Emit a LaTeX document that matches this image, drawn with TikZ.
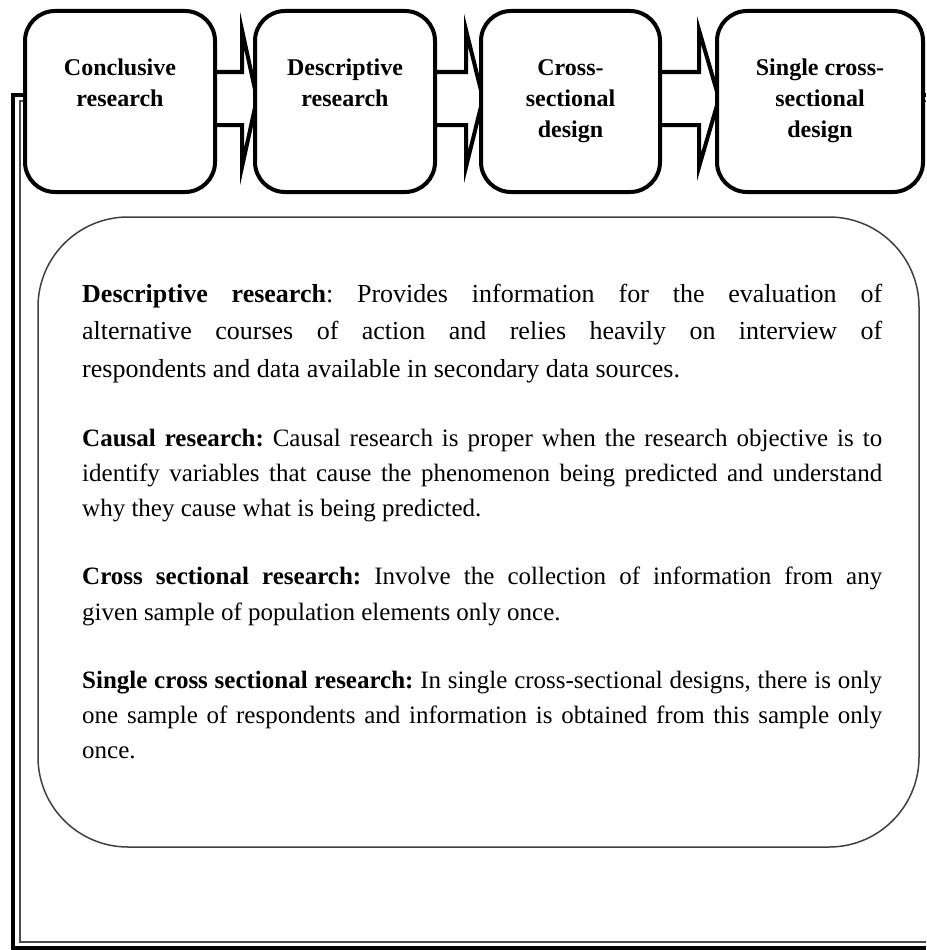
\documentclass[tikz,border=0pt]{standalone}
\usepackage{fontspec}
\setmainfont{Liberation Serif}
\usetikzlibrary{calc}
\begin{document}
\frenchspacing
\begin{tikzpicture}[x=1pt,y=-1pt,
  stagebox/.style={draw=black, line width=4pt, rounded corners=30pt, fill=white, inner sep=0pt},
  stagetext/.style={align=center, inner sep=0pt, font=\fontsize{24}{31}\selectfont\bfseries},
  barrow/.style={draw=black, line width=4pt, fill=white, line join=miter, miter limit=20},
  panel/.style={draw=black!75, line width=1.5pt, rounded corners=90pt, inner sep=0pt},
  bodytext/.style={anchor=base west, text width=800pt, align=justify, inner sep=0pt},
]
\useasboundingbox (0,0) rectangle (926,950);
\fill[white] (0,0) rectangle (926,950);
% outer double frame
\draw[black, line width=4pt] (926,95) -- (13,95) -- (13,948) -- (926,948);
\draw[black!70, line width=2pt] (926,101) -- (20,101) -- (20,942) -- (926,942);
% box positions
\coordinate (c1) at (120,101.5);
\coordinate (c2) at (345,101.5);
\coordinate (c3) at (570.5,101.5);
\coordinate (c4) at (820,101.5);
\node[stagebox, minimum width=186pt, minimum height=177pt, draw=none, fill=none] (b1) at (c1) {};
\node[stagebox, minimum width=176pt, minimum height=177pt, draw=none, fill=none] (b2) at (c2) {};
\node[stagebox, minimum width=175pt, minimum height=177pt, draw=none, fill=none] (b3) at (c3) {};
\node[stagebox, minimum width=202pt, minimum height=177pt, draw=none, fill=none] (b4) at (c4) {};
% block arrows
\draw[barrow] ($(b1.east)+(-8,-29.5)$) -- ($(b2.west)+(-13,-29.5)$) -- ($(b2.west)+(-13,-71.5)$) -- ($(b2.west)+(2,-3)$) -- ($(b2.west)+(-13,65.5)$) -- ($(b2.west)+(-13,23.5)$) -- ($(b1.east)+(-8,23.5)$) -- cycle;
\draw[barrow] ($(b2.east)+(-8,-29.5)$) -- ($(b3.west)+(-15,-29.5)$) -- ($(b3.west)+(-15,-71.5)$) -- ($(b3.west)+(2,-3)$) -- ($(b3.west)+(-15,65.5)$) -- ($(b3.west)+(-15,23.5)$) -- ($(b2.east)+(-8,23.5)$) -- cycle;
\draw[barrow] ($(b3.east)+(-8,-29.5)$) -- ($(b4.west)+(-18,-29.5)$) -- ($(b4.west)+(-18,-71.5)$) -- ($(b4.west)+(2,-3)$) -- ($(b4.west)+(-18,65.5)$) -- ($(b4.west)+(-18,23.5)$) -- ($(b3.east)+(-8,23.5)$) -- cycle;
% boxes
\draw[stagebox] (b1.south west) rectangle (b1.north east);
\draw[stagebox] (b2.south west) rectangle (b2.north east);
\draw[stagebox] (b3.south west) rectangle (b3.north east);
\draw[stagebox] (b4.south west) rectangle (b4.north east);
\node[stagetext, anchor=base] (t1) at (120,106) {Conclusive\\research};
\node[stagetext, anchor=base] (t2) at (345,106) {Descriptive\\research};
\node[stagetext, anchor=base] (t3) at (570.5,137) {Cross-\\sectional\\design};
\node[stagetext, anchor=base] (t4) at (820,137) {Single cross-\\sectional\\design};
% panel
\node[panel, minimum width=881pt, minimum height=630pt] (p) at (478.5,532) {};
% body text
\node[bodytext, font=\fontsize{26}{37.5}\selectfont] (d1) at (82,302) {\textbf{Descriptive research}: Provides information for the evaluation of\linebreak alternative courses of action and relies heavily on interview of\linebreak respondents and data available in secondary data sources.};
\node[bodytext, font=\fontsize{25}{35}\selectfont] (d2) at (82,446) {\textbf{Causal research:} Causal research is proper when the research objective is to\linebreak identify variables that cause the phenomenon being predicted and understand\linebreak why they cause what is being predicted.};
\node[bodytext, font=\fontsize{25}{36}\selectfont] (d3) at (82,584) {\textbf{Cross sectional research:} Involve the collection of information from any\linebreak given sample of population elements only once.};
\node[bodytext, font=\fontsize{25}{35}\selectfont] (d4) at (82,688) {\textbf{Single cross sectional research:} In single cross-sectional designs, there is only\linebreak one sample of respondents and information is obtained from this sample only\linebreak once.};
\end{tikzpicture}
\end{document}
